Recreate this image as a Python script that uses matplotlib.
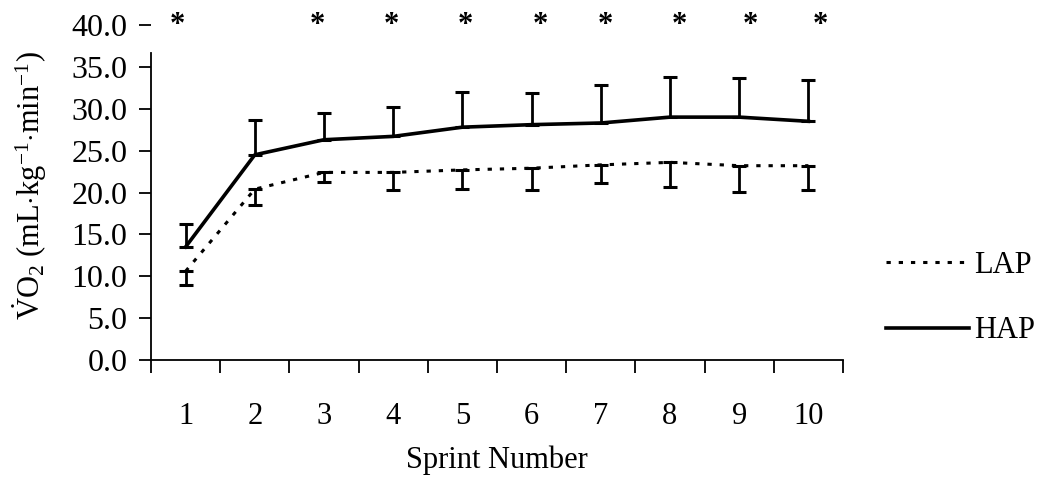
import matplotlib
matplotlib.use("Agg")
import matplotlib.pyplot as plt
import numpy as np

plt.rcParams['font.family'] = ['Liberation Serif', 'DejaVu Serif']
plt.rcParams['mathtext.fontset'] = 'custom'
plt.rcParams['mathtext.rm'] = 'Liberation Serif'
plt.rcParams['mathtext.it'] = 'Liberation Serif:italic'
plt.rcParams['font.size'] = 22

# data
sprints = [1, 2, 3, 4, 5, 6, 7, 8, 9, 10]
hap_mean = [13.5, 24.5, 26.3, 26.7, 27.8, 28.1, 28.3, 29.0, 29.0, 28.5]
hap_sd = [2.7, 4.2, 3.2, 3.5, 4.2, 3.8, 4.5, 4.8, 4.7, 4.9]
lap_mean = [10.6, 20.4, 22.4, 22.4, 22.7, 22.9, 23.3, 23.6, 23.2, 23.2]
lap_sd = [1.6, 1.9, 1.1, 2.1, 2.3, 2.6, 2.2, 2.9, 3.1, 2.9]
# significance markers (placed by hand in the original)
star_x = [0.88, 2.91, 3.98, 5.04, 6.12, 7.06, 8.14, 9.16, 10.18]
yticks = [0, 5, 10, 15, 20, 25, 30, 35, 40]

fig = plt.figure(figsize=(10.47, 4.8), dpi=100)
ax = fig.add_axes([151 / 1047, 0.25, 692 / 1047, 335 / 480])

zeros = np.zeros(len(sprints))
lap_line, = ax.plot(sprints, lap_mean, color='black', lw=2.2,
                    linestyle=(0, (1.4, 2.6)), label='LAP')
ax.errorbar(sprints, lap_mean, yerr=[lap_sd, zeros], fmt='none',
            ecolor='black', elinewidth=2, capsize=5, capthick=2.2)
hap_line, = ax.plot(sprints, hap_mean, color='black', lw=2.6, label='HAP')
ax.errorbar(sprints, hap_mean, yerr=[zeros, hap_sd], fmt='none',
            ecolor='black', elinewidth=2, capsize=5, capthick=2.2)

for sx in star_x:
    ax.text(sx, 40.0, '*', ha='center', va='center', fontsize=22,
            fontweight='bold', clip_on=False)

ax.set_xlim(0.5, 10.5)
ax.set_ylim(0, 40)
ax.set_yticks(yticks)
ax.set_yticklabels([f'{v:.1f}' for v in yticks], fontsize=23)
ax.set_xticks(np.arange(0.5, 11, 1))
ax.set_xticklabels([])
ax.set_xticks(sprints, minor=True)
ax.set_xticklabels([str(s) for s in sprints], minor=True)
ax.tick_params(axis='x', which='major', direction='out', length=9, width=1.3)
ax.tick_params(axis='x', which='minor', length=0, pad=30)
ax.tick_params(axis='y', direction='out', length=9, width=1.3, pad=8)

for side in ['top', 'right']:
    ax.spines[side].set_visible(False)
ax.spines['left'].set_bounds(0, 36.7)
ax.spines['left'].set_linewidth(1.3)
ax.spines['bottom'].set_linewidth(1.3)

ax.set_xlabel('Sprint Number')
ax.xaxis.set_label_coords(0.5, -0.30)
ax.xaxis.label.set_va('center')
ax.set_ylabel(r'$\dot{\mathrm{V}}\mathrm{O}_2$ (mL$\cdot$kg$^{\mathrm{-1}}$$\cdot$min$^{\mathrm{-1}}$)')
ax.yaxis.set_label_coords(-0.175, 0.52)
ax.yaxis.label.set_va('center')

fig.legend(handles=[lap_line, hap_line], loc='center left',
           bbox_to_anchor=(886 / 1047, 1 - 298 / 480), frameon=False,
           handlelength=2.7, handletextpad=0.2, labelspacing=1.2,
           borderpad=0, borderaxespad=0, fontsize=22)

fig.savefig('out.png', dpi=100)
